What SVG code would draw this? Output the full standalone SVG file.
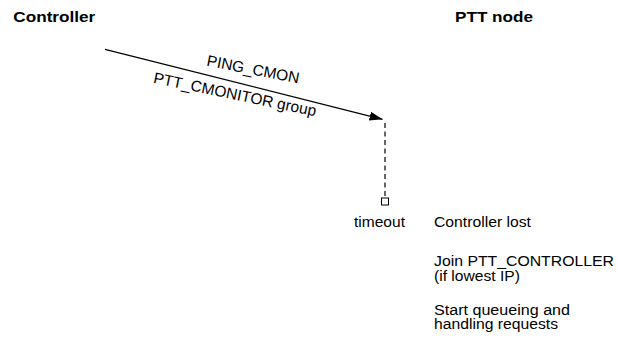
<svg xmlns="http://www.w3.org/2000/svg" width="618" height="346" viewBox="0 0 618 346">
<style>
text{font-family:"Liberation Sans",Arial,sans-serif;fill:#000}
.h{font-size:15px;font-weight:bold}
.t{font-size:14px}
.ln{stroke:#000;stroke-width:1.2;fill:none}
</style>
<defs>
<marker id="ah" markerWidth="14" markerHeight="9" refX="13" refY="4.5" orient="auto" markerUnits="userSpaceOnUse">
<path d="M0,0 L13,4.5 L0,9 Z" fill="#000"/>
</marker>
</defs>
<rect width="618" height="346" fill="#fff"/>
<g id="controller"><text class="h" x="13.3" y="21.5" textLength="82" lengthAdjust="spacingAndGlyphs">Controller</text></g>
<g id="ptt-node"><text class="h" x="455" y="21.5" textLength="78" lengthAdjust="spacingAndGlyphs">PTT node</text></g>
<g id="connectors">
<line class="ln" x1="105" y1="49.3" x2="382.5" y2="119.3" marker-end="url(#ah)"/>
<line class="ln" x1="385" y1="123" x2="385" y2="198" stroke-dasharray="5,3.5"/>
<text class="t" x="206" y="65.5" transform="rotate(11 206 65.5)" style="font-size:15.5px">PING_CMON</text>
<text class="t" x="152.7" y="82.7" transform="rotate(11.7 152.7 82.7)" style="font-size:15.5px">PTT_CMONITOR group</text>
</g>
<g id="timeout">
<rect x="381.5" y="198" width="7" height="7" fill="#fff" stroke="#000" stroke-width="1"/>
<text class="t" x="354" y="226.7" textLength="51" lengthAdjust="spacingAndGlyphs">timeout</text>
</g>
<g id="actions">
<text class="t" x="434" y="227.3" textLength="97" lengthAdjust="spacingAndGlyphs">Controller lost</text>
<text class="t" x="434" y="266" textLength="180" lengthAdjust="spacingAndGlyphs">Join PTT_CONTROLLER</text>
<text class="t" x="434" y="280.7" textLength="86" lengthAdjust="spacingAndGlyphs">(if lowest IP)</text>
<text class="t" x="434" y="314.5" textLength="136" lengthAdjust="spacingAndGlyphs">Start queueing and</text>
<text class="t" x="434" y="329" textLength="124" lengthAdjust="spacingAndGlyphs">handling requests</text>
</g>
</svg>
